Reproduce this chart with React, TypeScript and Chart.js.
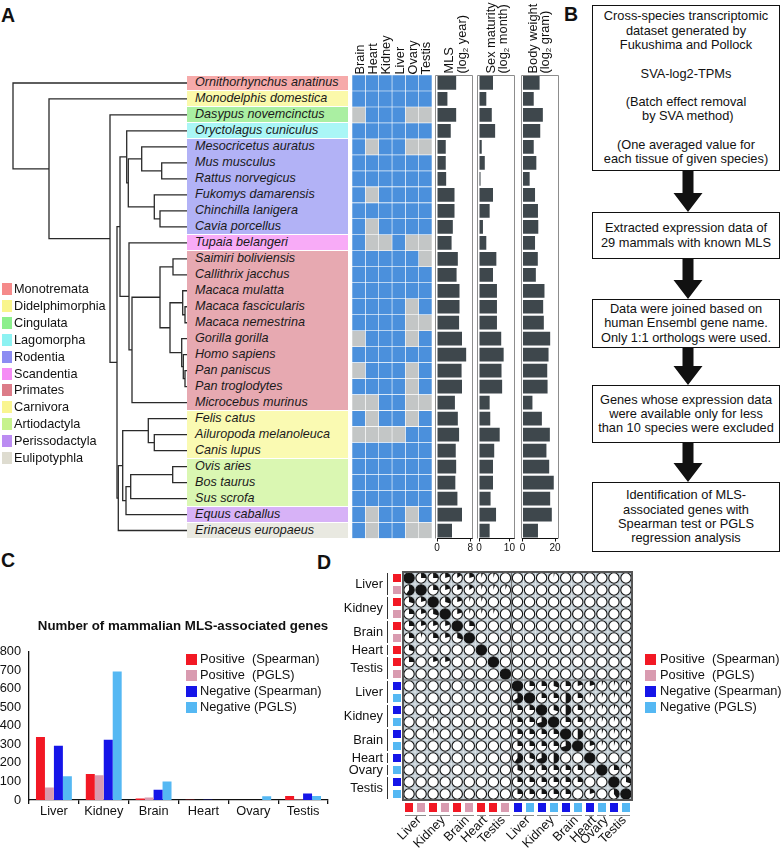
import React, { useEffect, useRef } from "react";
import { Chart, registerables } from "chart.js";

Chart.register(...registerables);

const FONT = '"Liberation Sans", Arial, Helvetica, sans-serif';
Chart.defaults.font.family = FONT;
Chart.defaults.color = "#111";

// ---------------- Panel A data ----------------
const species = [
  "Ornithorhynchus anatinus", "Monodelphis domestica", "Dasypus novemcinctus", "Oryctolagus cuniculus",
  "Mesocricetus auratus", "Mus musculus", "Rattus norvegicus", "Fukomys damarensis", "Chinchilla lanigera",
  "Cavia porcellus", "Tupaia belangeri", "Saimiri boliviensis", "Callithrix jacchus", "Macaca mulatta",
  "Macaca fascicularis", "Macaca nemestrina", "Gorilla gorilla", "Homo sapiens", "Pan paniscus",
  "Pan troglodytes", "Microcebus murinus", "Felis catus", "Ailuropoda melanoleuca", "Canis lupus",
  "Ovis aries", "Bos taurus", "Sus scrofa", "Equus caballus", "Erinaceus europaeus",
];
const orderNames = ["Monotremata", "Didelphimorphia", "Cingulata", "Lagomorpha", "Rodentia", "Scandentia", "Primates", "Carnivora", "Artiodactyla", "Perissodactyla", "Eulipotyphla"];
const orderLegendColors = ["#f58a8a", "#f9f58c", "#8cef8c", "#8cf2f2", "#8c8cf2", "#f58cf5", "#dc7c88", "#f9f590", "#c6f28c", "#bb8cf2", "#dedcd0"];
const orderBoxColors = ["#f6aaaa", "#fbf9aa", "#aaefa2", "#aaf6f6", "#b2b2f6", "#f8abf7", "#e7a9b1", "#fafab2", "#daf7b2", "#d7b2f7", "#e9e9e1"];
const speciesOrder = [0, 1, 2, 3, 4, 4, 4, 4, 4, 4, 5, 6, 6, 6, 6, 6, 6, 6, 6, 6, 6, 7, 7, 7, 8, 8, 8, 9, 10];

const tissuesA = ["Brain", "Heart", "Kidney", "Liver", "Ovary", "Testis"];
const availability = [
  "111111", "111111", "011100", "111111", "101100", "111111", "111111", "101111", "111111", "101111",
  "100100", "111110", "111111", "111111", "111101", "111100", "011101", "111111", "011101", "111101",
  "001100", "101101", "000011", "111111", "111111", "111111", "111111", "101101", "101100",
];
const mlsLog2 = [4.6, 2.5, 4.6, 3.3, 2.1, 2.1, 2.2, 4.2, 4.2, 3.8, 3.5, 5.0, 4.7, 5.4, 5.4, 5.3, 6.0, 7.0, 5.9, 6.0, 4.3, 5.0, 5.3, 4.5, 4.6, 4.4, 4.9, 6.0, 3.6];
const sexMaturityLog2 = [4.6, 2.4, 4.2, 5.3, 0.9, 1.9, 0.5, 4.6, 3.5, 1.3, 2.4, 5.7, 4.6, 5.9, 5.9, 5.9, 7.3, 8.1, 7.4, 7.6, 3.5, 3.7, 6.8, 5.0, 4.6, 4.6, 3.8, 5.6, 3.5];
const bodyWeightLog2 = [10.5, 6.9, 12.5, 10.9, 6.9, 8.5, 4.4, 7.7, 9.5, 9.7, 7.7, 9.4, 8.2, 13.5, 12.7, 13.1, 17.0, 16.0, 15.2, 15.4, 6.1, 11.9, 16.8, 14.7, 16.4, 19.2, 17.0, 18.0, 9.5];

// Tree: [node depth, child, child]; numbers are leaf (species) indices
const treeLeafDepth = 174;
const tree = [0, 0, [36, 1, [97, 2, [104,
  [107,
    [113.7, 3, [115.3, [128.7, 4, [148.7, 5, 6]], [141.3, 7, [147, 8, 9]]]],
    [116, 10, [119, [147, [160, 11, 12], [157, [169.7, 13, [172, 14, 15]], [168.7, 16, [170.3, 17, [172, 18, 19]]]]], 20]]],
  [105.3, [109.7, [135.3, 21, [141.3, 22, 23]], [113, [117.7, [159.7, 24, 25], 26], 27]], 28]]]]];

// ---------------- Panel B data ----------------
const flowSteps = [
  ["Cross-species transcriptomic", "dataset generated by", "Fukushima and Pollock", "", "SVA-log2-TPMs", "", "(Batch effect removal", " by SVA method)", "", "(One averaged value for", "each tissue of given species)"],
  ["Extracted expression data of", "29 mammals with known MLS"],
  ["Data were joined based on", "human Ensembl gene name.", "Only 1:1 orthologs were used."],
  ["Genes whose expression data", "were available only for less", "than 10 species were excluded"],
  ["Identification of MLS-", "associated genes with", "Spearman test or PGLS", "regression analysis"],
];

// ---------------- Panel C data ----------------
const tissuesC = ["Liver", "Kidney", "Brain", "Heart", "Ovary", "Testis"];
const posSpearman = [340, 140, 8, 2, 0, 22];
const posPGLS = [68, 134, 14, 0, 0, 3];
const negSpearman = [293, 325, 55, 2, 0, 35];
const negPGLS = [128, 693, 100, 0, 20, 21];
const seriesNames = ["Positive  (Spearman)", "Positive  (PGLS)", "Negative (Spearman)", "Negative (PGLS)"];
const seriesColors = ["#f21824", "#d99bb0", "#1515e8", "#55b8f3"];

// ---------------- Panel D data ----------------
const dRowSeries = [0, 1, 0, 1, 0, 1, 0, 0, 1, 2, 3, 2, 3, 2, 3, 2, 3, 2, 3];
const dGroups: [string, number, number][] = [
  ["Liver", 0, 1], ["Kidney", 2, 3], ["Brain", 4, 5], ["Heart", 6, 6], ["Testis", 7, 8],
  ["Liver", 9, 10], ["Kidney", 11, 12], ["Brain", 13, 14], ["Heart", 15, 15], ["Ovary", 16, 16], ["Testis", 17, 18],
];
const overlapRows = [
  [1, .25, .25, .2, .15, .2, .05, .05, 0, 0, 0, 0, .03, 0, 0, 0, 0, 0, 0],
  [.6, 1, .25, .2, .2, .15, .05, .05, .05, 0, 0, 0, 0, 0, 0, 0, 0, 0, 0],
  [.3, .2, 1, .3, .2, .05, .05, 0, 0, 0, 0, 0, 0, 0, 0, 0, 0, 0, 0],
  [.25, .2, .3, 1, .2, .05, .05, .05, 0, 0, 0, 0, 0, 0, 0, 0, 0, 0, 0],
  [.25, .2, .2, .2, 1, .25, 0, 0, 0, 0, 0, 0, 0, 0, 0, 0, 0, 0, 0],
  [.25, .05, .25, .2, .3, 1, 0, 0, 0, 0, 0, 0, 0, 0, 0, 0, 0, 0, 0],
  [.3, 0, 0, 0, 0, 0, 1, 0, 0, 0, 0, 0, 0, 0, 0, 0, 0, 0, 0],
  [.25, 0, .2, .2, 0, 0, 0, 1, 0, 0, 0, 0, 0, 0, 0, 0, 0, 0, 0],
  [0, 0, 0, 0, 0, 0, 0, 0, 1, 0, 0, 0, 0, 0, 0, 0, 0, 0, 0],
  [0, 0, 0, 0, 0, 0, 0, 0, 0, 1, .25, .25, .3, .25, .2, .2, .05, .05, .05],
  [0, 0, 0, 0, 0, 0, 0, 0, 0, .65, 1, .25, .25, .5, .25, .05, .05, .05, .05],
  [0, 0, 0, 0, 0, 0, 0, 0, 0, .25, .25, 1, .3, .5, .25, .05, .05, .05, .05],
  [0, 0, .03, 0, 0, 0, 0, 0, 0, .25, .25, .7, 1, .25, .25, .05, .05, .05, .05],
  [0, 0, .03, 0, 0, 0, 0, 0, 0, .25, .25, .25, .25, 1, .5, .05, .05, .05, .05],
  [0, 0, 0, 0, 0, 0, 0, 0, 0, .25, .25, .25, .25, .7, 1, .2, .05, .05, .05],
  [0, 0, 0, 0, 0, 0, 0, 0, 0, .6, .3, .7, .5, 0, 0, 1, 0, 0, 0],
  [0, 0, 0, 0, 0, 0, 0, 0, 0, .3, .25, .25, .25, .25, .25, 0, 1, .25, .05],
  [0, 0, 0, 0, 0, 0, 0, 0, 0, .25, .25, .25, .25, .25, .25, 0, 0, 1, .3],
  [0, 0, 0, 0, 0, 0, 0, 0, 0, .25, .25, .25, .25, .25, 0, .2, 0, .4, 1],
];

// ---------------- Layout constants ----------------
const A_TOP = 75;
const A_BOTTOM = 538.5;
const ROW_H = (A_BOTTOM - A_TOP) / species.length;
const CA_TOP = 70;
const CA_H = 495;
const PAD_T = A_TOP - CA_TOP;
const PAD_B = CA_TOP + CA_H - A_BOTTOM;
const HM_LEFT = 352;
const HM_RIGHT = 432;
const LABEL_LEFT = 187;
const LABEL_RIGHT = 348;

const D_LEFT = 403;
const D_TOP = 572;
const D_W = 229;
const D_H = 228;
const D_N = overlapRows.length;
const D_CW = D_W / D_N;
const D_CH = D_H / D_N;

const baseOpts = {
  animation: false,
  responsive: false,
  devicePixelRatio: 1,
  events: [],
  plugins: { legend: { display: false }, tooltip: { enabled: false } },
};

function layoutTree(node: any, segs: any[]): { x: number; y: number } {
  if (typeof node === "number") return { x: treeLeafDepth, y: node };
  const d = node[0];
  const kids = node.slice(1).map((k: any) => layoutTree(k, segs));
  const first = kids[0];
  const last = kids[kids.length - 1];
  segs.push([
    { x: first.x, y: first.y },
    { x: d, y: first.y },
    { x: d, y: last.y },
    { x: last.x, y: last.y },
  ]);
  return { x: d, y: (first.y + last.y) / 2 };
}

function treeConfig(): any {
  const segs: any[] = [];
  layoutTree(tree, segs);
  return {
    type: "scatter",
    data: {
      datasets: segs.map((s) => ({
        data: s, showLine: true, borderColor: "#2a2a2a", borderWidth: 1.3, pointRadius: 0,
        fill: false, clip: false, tension: 0, borderJoinStyle: "miter", borderCapStyle: "butt",
      })),
    },
    options: {
      ...baseOpts,
      layout: { padding: { left: 13, right: 3, top: PAD_T, bottom: PAD_B } },
      scales: {
        x: { type: "linear", min: 0, max: treeLeafDepth, display: false },
        y: { type: "linear", min: -0.5, max: species.length - 0.5, reverse: true, display: false },
      },
    },
  };
}

function heatmapConfig(): any {
  return {
    type: "bar",
    data: {
      labels: species,
      datasets: tissuesA.map((t, ti) => ({
        label: t,
        data: species.map(() => 1),
        backgroundColor: availability.map((a) => (a[ti] === "1" ? "#4b90dc" : "#c3c6c6")),
        borderColor: "#ffffff",
        borderWidth: 0.6,
        borderSkipped: false,
        barPercentage: 1,
        categoryPercentage: 1,
      })),
    },
    options: {
      ...baseOpts,
      indexAxis: "y",
      layout: { padding: { left: 7, right: 8, top: PAD_T, bottom: PAD_B } },
      scales: {
        x: { type: "linear", stacked: true, min: 0, max: tissuesA.length, display: false },
        y: { type: "category", stacked: true, display: false, offset: true },
      },
    },
  };
}

const boxPlugin = {
  id: "traitBox",
  afterDraw(chart: any) {
    const { ctx, chartArea: a } = chart;
    ctx.save();
    ctx.strokeStyle = "#8d8d8d";
    ctx.lineWidth = 1;
    const l = Math.round(a.left) - 1.5;
    const r = Math.round(a.right) + 0.5;
    const t = Math.round(a.top) + 0.5;
    const b = a.bottom;
    ctx.beginPath();
    ctx.moveTo(l, b);
    ctx.lineTo(l, t);
    ctx.lineTo(r, t);
    ctx.lineTo(r, b);
    ctx.stroke();
    ctx.restore();
  },
};

function traitConfig(values: number[], max: number, tickVals: number[], padL: number, padR: number): any {
  return {
    type: "bar",
    data: {
      labels: species,
      datasets: [{ data: values, backgroundColor: "#3e474c", barPercentage: 0.86, categoryPercentage: 1, borderWidth: 0 }],
    },
    options: {
      ...baseOpts,
      indexAxis: "y",
      layout: { padding: { left: padL, right: padR, top: PAD_T, bottom: PAD_B - 20 } },
      scales: {
        x: {
          type: "linear", min: 0, max, position: "bottom",
          afterBuildTicks: (s: any) => { s.ticks = tickVals.map((v) => ({ value: v })); },
          afterFit: (s: any) => { s.height = 20; },
          border: { display: true, color: "#111", width: 1 },
          grid: { display: true, drawOnChartArea: false, drawTicks: true, tickLength: 3, color: "#111" },
          ticks: { font: { size: 10 }, color: "#111", padding: 1, maxRotation: 0, autoSkip: false },
        },
        y: { type: "category", display: false, offset: true },
      },
    },
    plugins: [boxPlugin],
  };
}

function cConfig(): any {
  const series = [posSpearman, posPGLS, negSpearman, negPGLS];
  return {
    type: "bar",
    data: {
      labels: tissuesC,
      datasets: series.map((s, i) => ({
        label: seriesNames[i], data: s, backgroundColor: seriesColors[i],
        barPercentage: 1, categoryPercentage: 0.72, borderWidth: 0,
      })),
    },
    options: {
      ...baseOpts,
      layout: { padding: { left: 0, right: 12, top: 10, bottom: 14 } },
      scales: {
        x: {
          afterFit: (s: any) => { s.height = 22; },
          border: { display: true, color: "#111", width: 1.3 },
          grid: { offset: true, drawOnChartArea: false, drawTicks: true, tickLength: 4, color: "#111", lineWidth: 1.3 },
          ticks: { font: { size: 12.8 }, color: "#111", padding: 0, maxRotation: 0 },
        },
        y: {
          min: 0, max: 800,
          afterFit: (s: any) => { s.width = 29; },
          border: { display: true, color: "#111", width: 1.3 },
          grid: { display: false, drawTicks: false },
          ticks: { stepSize: 100, font: { size: 12.8 }, color: "#111", padding: 8 },
        },
      },
    },
  };
}

const piePlugin = {
  id: "pieMatrix",
  beforeDatasetsDraw(chart: any) {
    const { ctx, chartArea: a, scales } = chart;
    ctx.save();
    ctx.fillStyle = "#b5c1c9";
    ctx.fillRect(a.left, a.top, a.width, a.height);
    ctx.strokeStyle = "#dfe5e8";
    ctx.lineWidth = 1;
    for (let k = 1; k < D_N; k++) {
      const x = scales.x.getPixelForValue(k - 0.5);
      const y = scales.y.getPixelForValue(k - 0.5);
      ctx.beginPath();
      ctx.moveTo(x, a.top);
      ctx.lineTo(x, a.bottom);
      ctx.moveTo(a.left, y);
      ctx.lineTo(a.right, y);
      ctx.stroke();
    }
    ctx.restore();
  },
  afterDatasetsDraw(chart: any) {
    const { ctx, chartArea: a, scales } = chart;
    const xs = scales.x;
    const ys = scales.y;
    const r = Math.abs(xs.getPixelForValue(1) - xs.getPixelForValue(0)) * 0.43;
    const pts = chart.data.datasets[0].data;
    ctx.save();
    for (const p of pts) {
      const cx = xs.getPixelForValue(p.x);
      const cy = ys.getPixelForValue(p.y);
      ctx.beginPath();
      ctx.arc(cx, cy, r, 0, Math.PI * 2);
      ctx.fillStyle = "#ffffff";
      ctx.fill();
      if (p.f > 0) {
        ctx.beginPath();
        if (p.f >= 0.999) {
          ctx.arc(cx, cy, r, 0, Math.PI * 2);
        } else {
          ctx.moveTo(cx, cy);
          ctx.arc(cx, cy, r, -Math.PI / 2, -Math.PI / 2 + p.f * Math.PI * 2);
          ctx.closePath();
        }
        ctx.fillStyle = "#141414";
        ctx.fill();
      }
      ctx.beginPath();
      ctx.arc(cx, cy, r, 0, Math.PI * 2);
      ctx.strokeStyle = "#111";
      ctx.lineWidth = 1.1;
      ctx.stroke();
    }
    // dividers between positive and negative blocks
    const split = dRowSeries.findIndex((s) => s >= 2);
    ctx.strokeStyle = "#6b6b6b";
    ctx.lineWidth = 1;
    const sx = xs.getPixelForValue(split - 0.5);
    const sy = ys.getPixelForValue(split - 0.5);
    ctx.beginPath();
    ctx.moveTo(sx, a.top);
    ctx.lineTo(sx, a.bottom);
    ctx.moveTo(a.left, sy);
    ctx.lineTo(a.right, sy);
    ctx.stroke();
    ctx.strokeStyle = "#555";
    ctx.lineWidth = 2;
    ctx.strokeRect(a.left, a.top, a.width, a.height);
    ctx.restore();
  },
};

function dConfig(): any {
  const pts: any[] = [];
  overlapRows.forEach((row, r) => row.forEach((f, c) => pts.push({ x: c, y: r, f })));
  return {
    type: "scatter",
    data: { datasets: [{ data: pts, pointRadius: 0, pointHoverRadius: 0 }] },
    options: {
      ...baseOpts,
      layout: { padding: { left: 8, right: 8, top: 7, bottom: 8 } },
      scales: {
        x: { type: "linear", min: -0.5, max: D_N - 0.5, display: false },
        y: { type: "linear", min: -0.5, max: D_N - 0.5, reverse: true, display: false },
      },
    },
    plugins: [piePlugin],
  };
}

function ChartCanvas({ left, top, width, height, make }: any) {
  const ref = useRef<HTMLCanvasElement>(null);
  useEffect(() => {
    const chart = new Chart(ref.current as HTMLCanvasElement, make());
    return () => chart.destroy();
  }, []);
  return <canvas ref={ref} width={width} height={height} style={{ position: "absolute", left, top, width, height }} />;
}

function VText({ x, y, size = 12.8, children }: any) {
  const lh = Math.round(size * 1.2);
  return (
    <div style={{ position: "absolute", left: x, top: y - lh / 2, height: lh, lineHeight: lh + "px", fontSize: size, whiteSpace: "nowrap", transformOrigin: "0 50%", transform: "rotate(-90deg)" }}>
      {children}
    </div>
  );
}

function Sub({ children }: any) {
  return <span style={{ fontSize: 8, position: "relative", top: 2 }}>{children}</span>;
}

function Letter({ x, y, children }: any) {
  return <div style={{ position: "absolute", left: x, top: y, fontSize: 19.5, fontWeight: "bold", lineHeight: "22px" }}>{children}</div>;
}

function App() {
  useEffect(() => {
    document.body.style.margin = "0";
  }, []);

  // label group runs
  const runs: { order: number; start: number; end: number }[] = [];
  speciesOrder.forEach((o, i) => {
    const last = runs[runs.length - 1];
    if (last && last.order === o) last.end = i;
    else runs.push({ order: o, start: i, end: i });
  });

  const traitPanels = [
    { left: 437, right: 472, max: 8.4, ticks: [0, 8], values: mlsLog2, t1: "MLS", t2: ["(log", "2", " year)"], x1: 448, x2: 461 },
    { left: 479, right: 514, max: 11.5, ticks: [0, 10], values: sexMaturityLog2, t1: "Sex maturity", t2: ["(log", "2", " month)"], x1: 490, x2: 502 },
    { left: 522.5, right: 557.5, max: 21.5, ticks: [0, 20], values: bodyWeightLog2, t1: "Body weight", t2: ["(log", "2", " gram)"], x1: 532, x2: 544 },
  ];

  // flowchart boxes
  const flowBoxes = [
    { top: 5, bottom: 171 },
    { top: 212, bottom: 259 },
    { top: 299, bottom: 348 },
    { top: 385, bottom: 443 },
    { top: 482, bottom: 552 },
  ];
  const FB_LEFT = 592;
  const FB_RIGHT = 780;
  const FB_CX = 688;

  const dColOf = (c: number) => D_LEFT + D_CW * (c + 0.5);
  const dRowOf = (r: number) => D_TOP + D_CH * (r + 0.5);

  return (
    <div style={{ position: "absolute", left: 0, top: 0, width: 782, height: 851, background: "#fff", overflow: "hidden", fontFamily: FONT, color: "#111" }}>
      <Letter x={1} y={4}>A</Letter>
      <Letter x={564} y={3}>B</Letter>
      <Letter x={1} y={549}>C</Letter>
      <Letter x={317} y={551}>D</Letter>

      {/* Panel A: label boxes */}
      {runs.map((run, k) => (
        <div key={"run" + k} style={{ position: "absolute", left: LABEL_LEFT, width: LABEL_RIGHT - LABEL_LEFT, top: A_TOP + run.start * ROW_H + 0.5, height: (run.end - run.start + 1) * ROW_H - 1, background: orderBoxColors[run.order] }} />
      ))}
      {species.map((s, i) => (
        <div key={s} style={{ position: "absolute", left: 195, top: A_TOP + i * ROW_H, height: ROW_H, lineHeight: ROW_H + "px", fontSize: 12.6, fontStyle: "italic", whiteSpace: "nowrap", color: "#1a1a1a" }}>{s}</div>
      ))}

      <ChartCanvas left={0} top={CA_TOP} width={190} height={CA_H} make={treeConfig} />
      <ChartCanvas left={345} top={CA_TOP} width={95} height={CA_H} make={heatmapConfig} />
      {traitPanels.map((p, i) => {
        const cl = Math.floor(p.left) - 10;
        return (
          <ChartCanvas key={"tp" + i} left={cl} top={CA_TOP} width={56} height={CA_H}
            make={() => traitConfig(p.values, p.max, p.ticks, p.left - cl, cl + 56 - p.right)} />
        );
      })}

      {tissuesA.map((t, i) => (
        <VText key={"hh" + t} x={HM_LEFT + ((HM_RIGHT - HM_LEFT) / tissuesA.length) * (i + 0.5)} y={74}>{t}</VText>
      ))}
      {traitPanels.map((p, i) => (
        <React.Fragment key={"th" + i}>
          <VText x={p.x1} y={73}>{p.t1}</VText>
          <VText x={p.x2} y={73}>{p.t2[0]}<Sub>{p.t2[1]}</Sub>{p.t2[2]}</VText>
        </React.Fragment>
      ))}

      {/* Panel A legend */}
      {orderNames.map((o, i) => (
        <React.Fragment key={"lg" + o}>
          <div style={{ position: "absolute", left: 2, top: 283 + i * 16.9, width: 10, height: 12, background: orderLegendColors[i] }} />
          <div style={{ position: "absolute", left: 14, top: 281 + i * 16.9, lineHeight: "16px", fontSize: 12.7, whiteSpace: "nowrap" }}>{o}</div>
        </React.Fragment>
      ))}

      {/* Panel B */}
      {flowBoxes.map((b, i) => (
        <div key={"fb" + i} style={{ position: "absolute", left: FB_LEFT, top: b.top, width: FB_RIGHT - FB_LEFT, height: b.bottom - b.top, boxSizing: "border-box", border: "1.5px solid #111", display: "flex", flexDirection: "column", justifyContent: "center", alignItems: "center" }}>
          {flowSteps[i].map((l, j) => (
            <div key={j} style={{ fontSize: 12.8, lineHeight: "14.3px", height: 14.3, whiteSpace: "pre", textAlign: "center" }}>{l}</div>
          ))}
        </div>
      ))}
      <svg width={782} height={851} style={{ position: "absolute", left: 0, top: 0 }}>
        {flowBoxes.slice(0, -1).map((b, i) => {
          const y0 = b.bottom;
          const y1 = flowBoxes[i + 1].top;
          const hb = y1 - 19;
          const pts = [
            [FB_CX - 5.5, y0], [FB_CX + 5.5, y0], [FB_CX + 5.5, hb], [FB_CX + 14.5, hb],
            [FB_CX, y1], [FB_CX - 14.5, hb], [FB_CX - 5.5, hb],
          ].map((p) => p.join(",")).join(" ");
          return <polygon key={"ar" + i} points={pts} fill="#111" />;
        })}
      </svg>

      {/* Panel C */}
      <div style={{ position: "absolute", left: 33, width: 300, top: 618, textAlign: "center", fontSize: 13.3, fontWeight: "bold", lineHeight: "16px", whiteSpace: "nowrap" }}>
        Number of mammalian MLS-associated genes
      </div>
      <ChartCanvas left={0} top={636} width={340} height={200} make={cConfig} />
      {seriesNames.map((n, i) => (
        <React.Fragment key={"cl" + i}>
          <div style={{ position: "absolute", left: 186, top: 653.5 + i * 16, width: 11, height: 11, background: seriesColors[i] }} />
          <div style={{ position: "absolute", left: 200, top: 651 + i * 16, lineHeight: "16px", fontSize: 12.8, whiteSpace: "pre" }}>{n}</div>
        </React.Fragment>
      ))}

      {/* Panel D */}
      <ChartCanvas left={D_LEFT - 8} top={D_TOP - 7} width={D_W + 16} height={D_H + 15} make={dConfig} />
      {dGroups.map(([label, r0, r1], k) => {
        const cy = (dRowOf(r0) + dRowOf(r1)) / 2;
        return (
          <React.Fragment key={"dg" + k}>
            <div style={{ position: "absolute", left: 283, width: 100, top: cy - 8, lineHeight: "16px", textAlign: "right", fontSize: 12.8 }}>{label}</div>
            <div style={{ position: "absolute", left: 386.5, width: 1.2, top: D_TOP + r0 * D_CH + 1, height: (r1 - r0 + 1) * D_CH - 2, background: "#333" }} />
            <div style={{ position: "absolute", left: D_LEFT + D_CW * r0 + 1.5, width: (r1 - r0 + 1) * D_CW - 3, top: 814.5, height: 1.4, background: "#8a8a8a" }} />
            <div style={{ position: "absolute", left: (dColOf(r0) + dColOf(r1)) / 2 + 4 - 80, width: 80, top: 818 - 8, lineHeight: "16px", textAlign: "right", fontSize: 12.8, whiteSpace: "nowrap", transformOrigin: "100% 50%", transform: "rotate(-45deg)" }}>{label}</div>
          </React.Fragment>
        );
      })}
      {dRowSeries.map((s, r) => (
        <React.Fragment key={"ds" + r}>
          <div style={{ position: "absolute", left: 393, width: 7.5, top: dRowOf(r) - 4, height: 8, background: seriesColors[s] }} />
          <div style={{ position: "absolute", left: dColOf(r) - 4, width: 8, top: 803, height: 8.5, background: seriesColors[s] }} />
        </React.Fragment>
      ))}
      {seriesNames.map((n, i) => (
        <React.Fragment key={"dl" + i}>
          <div style={{ position: "absolute", left: 645, top: 653.5 + i * 16, width: 11, height: 11, background: seriesColors[i] }} />
          <div style={{ position: "absolute", left: 660, top: 651 + i * 16, lineHeight: "16px", fontSize: 12.8, whiteSpace: "pre" }}>{n}</div>
        </React.Fragment>
      ))}
    </div>
  );
}

export default App;
